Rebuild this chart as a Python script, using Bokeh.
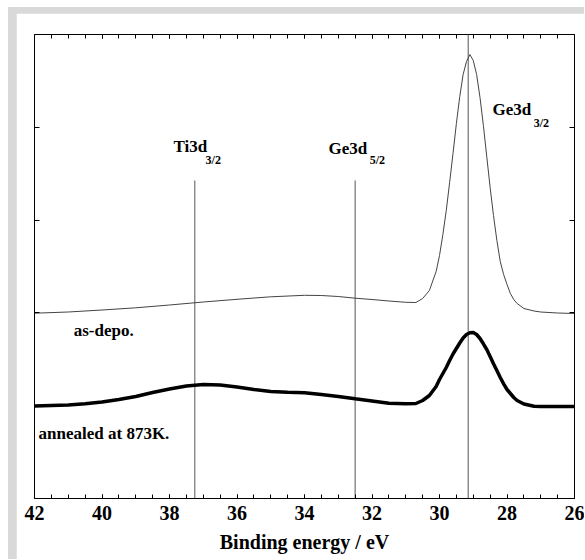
from bokeh.plotting import figure
from bokeh.models import LinearAxis, FixedTicker, Range1d
from bokeh.layouts import column
from bokeh.core.properties import value
from bokeh.embed import file_html
from bokeh.resources import INLINE

# ---- data (binding energy in eV, intensity in arbitrary units) ----
energy_asdepo = [42.0, 41.0, 40.0, 39.0, 38.0, 37.0, 36.0, 35.0, 34.0, 33.5, 33.0, 32.5, 32.0,
                 31.5, 31.0, 30.7, 30.5, 30.3, 30.1, 30.0, 29.9, 29.8, 29.7, 29.6, 29.5, 29.4,
                 29.3, 29.2, 29.1, 29.0, 28.9, 28.8, 28.7, 28.6, 28.5, 28.4, 28.3, 28.2, 28.1,
                 28.0, 27.9, 27.8, 27.7, 27.5, 27.2, 27.0, 26.5, 26.0]
intensity_asdepo = [185.3, 186.5, 188.5, 190.7, 193.5, 196.5, 199.2, 201.7, 203.2, 203.0, 202.0,
                    200.3, 199.0, 197.5, 196.2, 196.0, 200.0, 208.0, 227.0, 243.0, 264.0, 288.0,
                    316.0, 345.0, 375.0, 402.0, 424.0, 437.0, 444.0, 438.0, 424.0, 401.0, 373.0,
                    342.0, 311.0, 283.0, 258.0, 237.0, 224.0, 214.0, 205.0, 199.0, 195.0, 190.0,
                    187.5, 186.5, 185.5, 185.0]

energy_annealed = [42.0, 41.0, 40.5, 40.0, 39.5, 39.0, 38.5, 38.0, 37.5, 37.0, 36.5, 36.0, 35.5,
                   35.0, 34.5, 34.0, 33.5, 33.0, 32.5, 32.0, 31.5, 31.0, 30.7, 30.5, 30.3, 30.1,
                   30.0, 29.9, 29.8, 29.7, 29.6, 29.5, 29.4, 29.3, 29.2, 29.1, 29.0, 28.9, 28.8,
                   28.7, 28.6, 28.5, 28.4, 28.3, 28.2, 28.1, 28.0, 27.8, 27.7, 27.5, 27.2, 27.0,
                   26.5, 26.0]
intensity_annealed = [92.5, 93.5, 94.7, 96.5, 99.0, 102.0, 106.0, 109.5, 112.5, 114.0, 113.5, 111.5,
                      109.0, 107.0, 106.2, 105.8, 104.0, 102.0, 99.7, 97.5, 95.2, 94.7, 95.0, 98.0,
                      103.0, 112.0, 119.0, 125.0, 131.0, 138.0, 144.5, 150.0, 155.5, 160.5, 164.0,
                      165.7, 166.0, 164.0, 160.0, 154.7, 149.0, 142.0, 134.7, 128.0, 121.0, 114.7,
                      109.0, 101.0, 98.0, 94.5, 92.3, 92.0, 92.0, 92.0]

# reference peak positions (eV) and the height the marker lines start from
peak_names = ["Ti3d", "Ge3d", "Ge3d"]
peak_subs = ["3/2", "5/2", "3/2"]
peak_energy = [37.25, 32.5, 29.15]
peak_line_top = [318.0, 318.0, 464.0]

sample_labels = ["as-depo.", "annealed at 873K."]

x_ticks_major = [42, 40, 38, 36, 34, 32, 30, 28, 26]
x_ticks_minor = [42 - 0.5 * i for i in range(33)]
y_ticks = [92.8, 185.6, 278.4, 371.2]

SERIF = "Liberation Serif"

p = figure(width=568, height=546, x_range=Range1d(42, 26), y_range=Range1d(0, 464),
           output_backend="svg", toolbar_location=None,
           min_border_left=18, min_border_right=10, min_border_top=21, min_border_bottom=61)
p.background_fill_color = "white"
p.border_fill_color = "white"
p.outline_line_color = "black"
p.outline_line_width = 1
p.xgrid.visible = False
p.ygrid.visible = False


def blank_labels(axis, ticks):
    axis.major_label_overrides = {t: "" for t in ticks}
    axis.major_label_standoff = 0


# bottom axis
xa = p.xaxis[0]
xa.ticker = FixedTicker(ticks=x_ticks_major, minor_ticks=x_ticks_minor)
xa.major_tick_in = 4
xa.major_tick_out = 0
xa.minor_tick_in = 4
xa.minor_tick_out = 0
xa.axis_line_color = None
xa.major_tick_line_color = "black"
xa.minor_tick_line_color = "black"
xa.major_label_text_font = SERIF
xa.major_label_text_font_style = "bold"
xa.major_label_text_font_size = "20px"
xa.major_label_text_color = "black"
xa.major_label_standoff = 7
xa.axis_label = "Binding energy / eV"
xa.axis_label_text_font = SERIF
xa.axis_label_text_font_style = "bold"
xa.axis_label_text_font_size = "20px"
xa.axis_label_text_color = "black"
xa.axis_label_standoff = 8

# top axis (ticks only)
xt = LinearAxis(ticker=FixedTicker(ticks=x_ticks_major, minor_ticks=x_ticks_minor))
xt.major_tick_in = 4
xt.major_tick_out = 0
xt.minor_tick_in = 4
xt.minor_tick_out = 0
xt.axis_line_color = None
blank_labels(xt, x_ticks_major)
p.add_layout(xt, "above")

# left axis (ticks only)
ya = p.yaxis[0]
ya.ticker = FixedTicker(ticks=y_ticks, minor_ticks=[])
ya.major_tick_in = 5
ya.major_tick_out = 0
ya.minor_tick_in = 0
ya.minor_tick_out = 0
ya.axis_line_color = None
blank_labels(ya, y_ticks)

# right axis (ticks only)
yr = LinearAxis(ticker=FixedTicker(ticks=y_ticks, minor_ticks=[]))
yr.major_tick_in = 5
yr.major_tick_out = 0
yr.minor_tick_in = 0
yr.minor_tick_out = 0
yr.axis_line_color = None
blank_labels(yr, y_ticks)
p.add_layout(yr, "right")

# peak marker lines
for e, top in zip(peak_energy, peak_line_top):
    p.line([e, e], [0, top], line_color="#555555", line_width=1)

# spectra
p.line(energy_asdepo, intensity_asdepo, line_color="#444444", line_width=1)
p.line(energy_annealed, intensity_annealed, line_color="black", line_width=3.5)

# peak labels (main part + subscript)
name_x = [37.88, 33.29, 28.43]
name_y = [352.0, 350.0, 389.0]
sub_x = [36.93, 32.07, 27.21]
sub_y = [339.0, 339.0, 376.0]
p.text(x=name_x, y=name_y, text=peak_names, text_font=value(SERIF), text_font_style="bold",
       text_font_size="17px", text_color="black", text_align="left", text_baseline="alphabetic")
p.text(x=sub_x, y=sub_y, text=peak_subs, text_font=value(SERIF), text_font_style="bold",
       text_font_size="12px", text_color="black", text_align="left", text_baseline="alphabetic")

# sample labels
p.text(x=[40.84, 41.88], y=[168.0, 65.0], text=sample_labels, text_font=value(SERIF),
       text_font_style="bold", text_font_size="17px", text_color="black",
       text_align="left", text_baseline="alphabetic")

gray_band = column(p, styles={"background-color": "#d9d9d9", "padding-left": "8px",
                              "padding-top": "6px"})
layout = column(gray_band, styles={"background-color": "white", "padding-left": "8px",
                                   "padding-top": "7px"})

open("out.html", "w").write(file_html(layout, INLINE))
